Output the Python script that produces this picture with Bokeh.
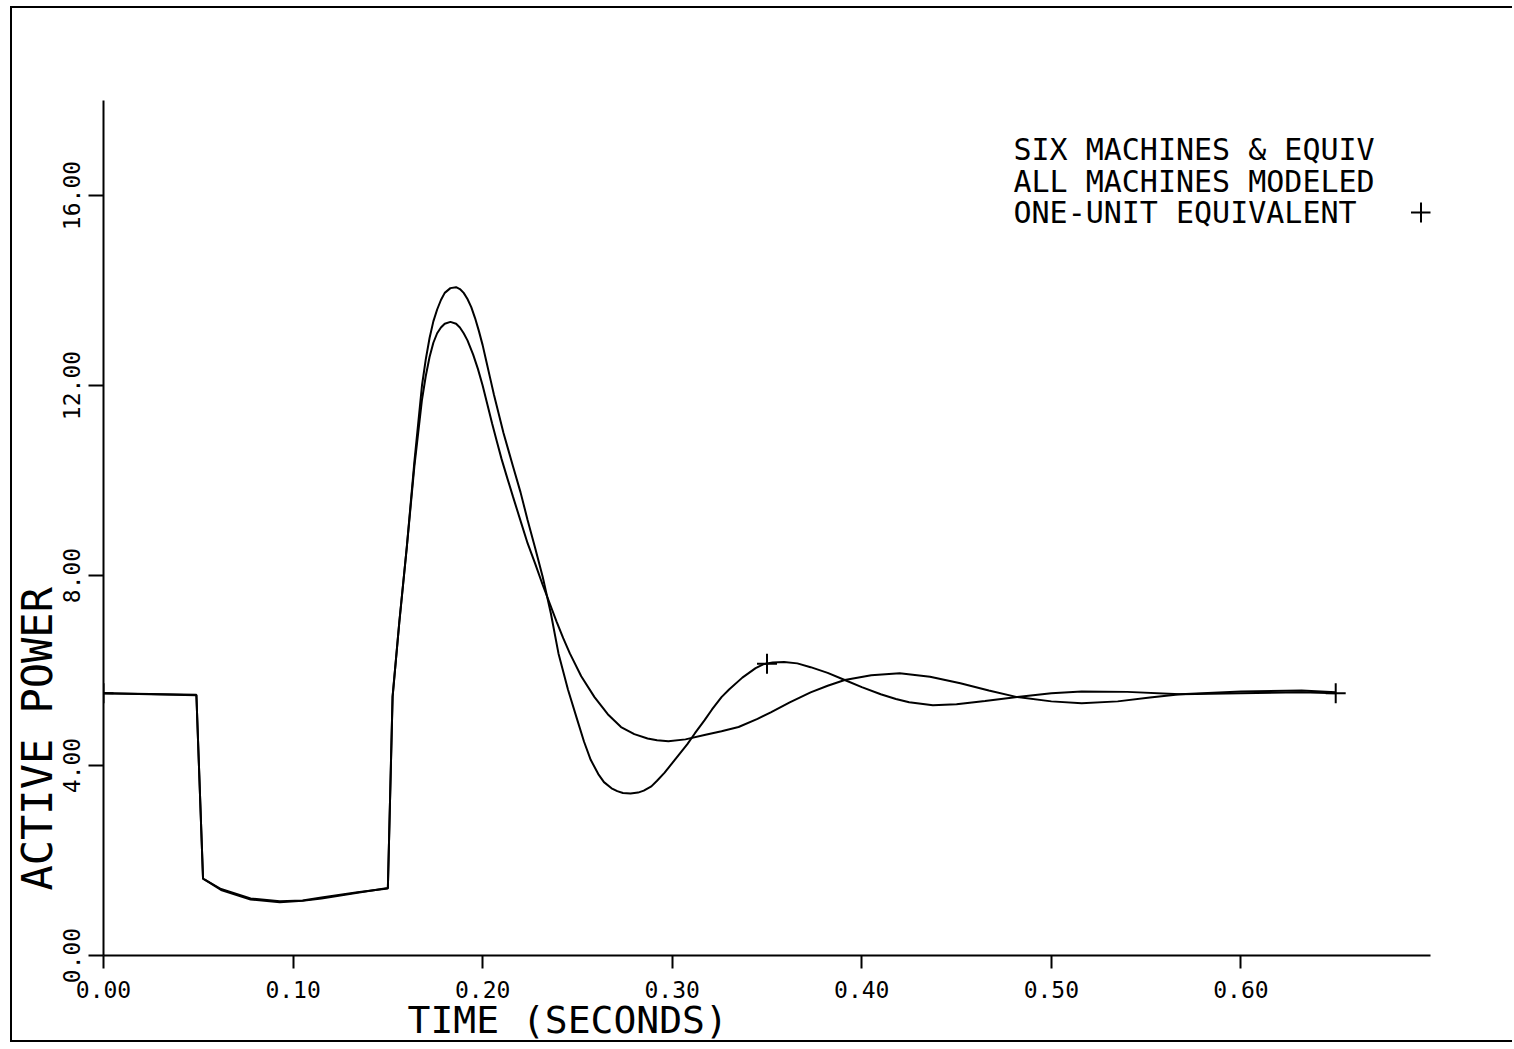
import math
from bokeh.plotting import figure
from bokeh.models import Range1d, FixedTicker, PrintfTickFormatter, Title, ColumnDataSource
from bokeh.core.properties import value
from bokeh.embed import file_html
from bokeh.resources import INLINE

# ---------------- data ----------------
# ALL MACHINES MODELED (no marker)
t_all = [0.000, 0.049, 0.0525, 0.062, 0.0776, 0.093, 0.105, 0.115, 0.134, 0.150,
         0.1525, 0.156, 0.160, 0.164, 0.166, 0.168, 0.170, 0.172, 0.174, 0.176,
         0.178, 0.180, 0.183, 0.186, 0.188, 0.190, 0.192, 0.195, 0.1975, 0.200,
         0.2025, 0.205, 0.2075, 0.210, 0.213, 0.216, 0.220, 0.2237, 0.2277, 0.2317,
         0.2355, 0.239, 0.2425, 0.246, 0.252, 0.259, 0.266, 0.273, 0.280, 0.287,
         0.292, 0.298, 0.307, 0.317, 0.326, 0.335, 0.345, 0.352, 0.362, 0.373,
         0.382, 0.391, 0.405, 0.420, 0.436, 0.452, 0.467, 0.482, 0.500, 0.516,
         0.535, 0.552, 0.568, 0.600, 0.632, 0.650]
p_all = [5.52, 5.49, 1.62, 1.38, 1.18, 1.12, 1.15, 1.20, 1.32, 1.42,
         5.45, 7.00, 8.60, 10.30, 11.00, 11.70, 12.20, 12.60, 12.90, 13.10,
         13.22, 13.30, 13.34, 13.30, 13.22, 13.10, 12.95, 12.65, 12.35, 12.00,
         11.60, 11.20, 10.82, 10.45, 10.05, 9.66, 9.15, 8.68, 8.25, 7.80,
         7.40, 7.03, 6.68, 6.36, 5.88, 5.44, 5.08, 4.81, 4.66, 4.57,
         4.53, 4.51, 4.55, 4.64, 4.72, 4.81, 4.98, 5.12, 5.33, 5.54,
         5.68, 5.80, 5.90, 5.94, 5.87, 5.73, 5.58, 5.44, 5.35, 5.31,
         5.35, 5.43, 5.50, 5.56, 5.58, 5.54]

# ONE-UNIT EQUIVALENT (+ marker)
t_one = [0.000, 0.049, 0.0525, 0.062, 0.0776, 0.093, 0.105, 0.115, 0.134, 0.150,
         0.1525, 0.156, 0.160, 0.164, 0.166, 0.168, 0.170, 0.172, 0.174, 0.176,
         0.178, 0.180, 0.183, 0.186, 0.188, 0.190, 0.192, 0.194, 0.196, 0.198,
         0.200, 0.202, 0.204, 0.206, 0.2085, 0.211, 0.2135, 0.216, 0.220, 0.2237,
         0.2277, 0.2317, 0.236, 0.240, 0.245, 0.250, 0.2535, 0.257, 0.261, 0.264,
         0.268, 0.271, 0.274, 0.278, 0.282, 0.285, 0.289, 0.292, 0.296, 0.300,
         0.304, 0.308, 0.312, 0.317, 0.321, 0.326, 0.330, 0.337, 0.344, 0.348,
         0.353, 0.359, 0.366, 0.373, 0.382, 0.391, 0.400, 0.410, 0.418, 0.425,
         0.4375, 0.450, 0.465, 0.482, 0.500, 0.516, 0.540, 0.568, 0.600, 0.632,
         0.650]
p_one = [5.52, 5.48, 1.62, 1.40, 1.20, 1.14, 1.16, 1.22, 1.33, 1.41,
         5.45, 7.00, 8.60, 10.40, 11.20, 12.00, 12.55, 13.00, 13.35, 13.60,
         13.80, 13.95, 14.05, 14.07, 14.03, 13.95, 13.82, 13.65, 13.42, 13.15,
         12.85, 12.50, 12.15, 11.80, 11.40, 11.00, 10.65, 10.30, 9.75, 9.17,
         8.58, 7.97, 7.20, 6.36, 5.60, 4.95, 4.50, 4.12, 3.82, 3.65,
         3.52, 3.46, 3.42, 3.41, 3.43, 3.47, 3.56, 3.68, 3.85, 4.05,
         4.25, 4.45, 4.68, 4.95, 5.18, 5.44, 5.60, 5.85, 6.05, 6.13,
         6.17, 6.18, 6.15, 6.07, 5.95, 5.80, 5.65, 5.50, 5.40, 5.33,
         5.27, 5.29, 5.36, 5.44, 5.52, 5.56, 5.55, 5.50, 5.52, 5.54,
         5.52]

# "+" symbols on the one-unit equivalent curve
t_plus = [0.000, 0.350, 0.650]
p_plus = [5.52, 6.14, 5.52]

x_ticks = [0.0, 0.1, 0.2, 0.3, 0.4, 0.5, 0.6]
y_ticks = [0, 4, 8, 12, 16]

legend_lines = ["SIX MACHINES & EQUIV", "ALL MACHINES MODELED", "ONE-UNIT EQUIVALENT"]
x_title = "TIME (SECONDS)"
y_title = "ACTIVE POWER"

FONT = "DejaVu Sans Mono"

# ---------------- figure ----------------
p = figure(width=1502, height=1036, output_backend="svg", toolbar_location=None,
           x_range=Range1d(0, 0.70), y_range=Range1d(0, 18),
           min_border_left=91, min_border_right=84, min_border_top=92, min_border_bottom=89)
p.styles = {"margin-left": "10px", "margin-top": "6px",
            "border-left": "2px solid black", "border-top": "2px solid black",
            "border-bottom": "2px solid black"}
p.outline_line_color = None
p.xgrid.visible = False
p.ygrid.visible = False
p.background_fill_color = "white"
p.border_fill_color = "white"

for ax in (p.xaxis[0], p.yaxis[0]):
    ax.axis_line_width = 2
    ax.axis_line_color = "black"
    ax.major_tick_line_width = 2
    ax.major_tick_line_color = "black"
    ax.minor_tick_line_color = None
    ax.major_tick_in = 0
    ax.major_label_text_font = FONT
    ax.major_label_text_font_size = "23px"
    ax.major_label_text_color = "black"

p.xaxis.ticker = FixedTicker(ticks=x_ticks)
p.yaxis.ticker = FixedTicker(ticks=y_ticks)
p.xaxis.formatter = PrintfTickFormatter(format="%.2f")
p.yaxis.formatter = PrintfTickFormatter(format="%.2f")
p.xaxis.major_tick_out = 13
p.yaxis.major_tick_out = 15
p.xaxis.major_label_standoff = 12
p.yaxis.major_label_standoff = 9
p.yaxis.major_label_orientation = "vertical"

# curves
p.line(t_all, p_all, line_color="black", line_width=2)
p.line(t_one, p_one, line_color="black", line_width=2)
p.scatter(t_plus, p_plus, marker="cross", size=20, line_color="black", line_width=2)

# legend text
src = ColumnDataSource(dict(x=[0.480] * 3, y=[16.97, 16.30, 15.64], text=legend_lines))
p.text(x="x", y="y", text="text", source=src, text_font=value(FONT),
       text_font_size="30px", text_baseline="middle", text_align="left", text_color="black")
p.scatter([0.695], [15.64], marker="cross", size=20, line_color="black", line_width=2)

# axis titles (as side titles so they sit outside the frame)
p.add_layout(Title(text=x_title, align="left", offset=304, text_font=FONT,
                   text_font_size="38px", text_font_style="normal", text_color="black",
                   standoff=-10), "below")
p.add_layout(Title(text=y_title, align="left", offset=65, text_font=FONT,
                   text_font_size="42px", text_font_style="normal", text_color="black",
                   standoff=-5), "left")

open("out.html", "w").write(file_html(p, INLINE))
